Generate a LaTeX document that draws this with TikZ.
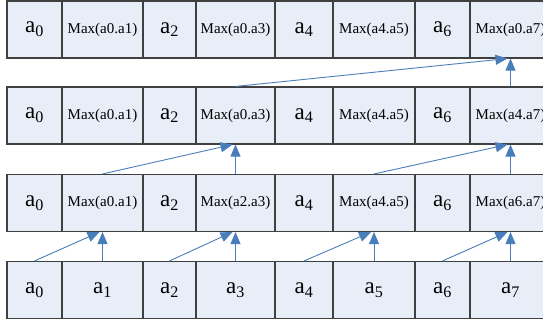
\documentclass[tikz,border=0pt]{standalone}
\usepackage{fontspec}
\setmainfont{Liberation Serif}
\usetikzlibrary{arrows.meta}
\definecolor{cellfill}{HTML}{E8EEF7}
\definecolor{cellline}{HTML}{404040}
\definecolor{arrowblue}{HTML}{4A7EBB}
\begin{document}
\begin{tikzpicture}[x=1pt,y=-1pt,
  cell/.style={draw=cellline, fill=cellfill, line width=1.1pt, inner sep=0pt,
               anchor=center, minimum height=57pt},
  big/.style={cell, font=\fontsize{23}{23}\selectfont},
  small/.style={cell, font=\fontsize{15}{15}\selectfont},
  link/.style={draw=arrowblue, line width=0.9pt, -{Triangle[width=10pt,length=12pt]}}]
\clip (0,0) rectangle (543,321);
% widths: c0 55, c1 81, c2 53, c3 79, c4 58, c5 82, c6 55, c7 81
% row 1
\node[big,   minimum width=55pt] (r1c0) at (34.5,29.5) {a\textsubscript{0}};
\node[small, minimum width=81pt] (r1c1) at (102.5,29.5) {Max(a0.a1)};
\node[big,   minimum width=53pt] (r1c2) at (169.5,29.5) {a\textsubscript{2}};
\node[small, minimum width=79pt] (r1c3) at (235.5,29.5) {Max(a0.a3)};
\node[big,   minimum width=58pt] (r1c4) at (304,29.5) {a\textsubscript{4}};
\node[small, minimum width=82pt] (r1c5) at (374,29.5) {Max(a4.a5)};
\node[big,   minimum width=55pt] (r1c6) at (442.5,29.5) {a\textsubscript{6}};
\node[small, minimum width=81pt] (r1c7) at (510.5,29.5) {Max(a0.a7)};
% row 2
\node[big,   minimum width=55pt] (r2c0) at (34.5,115.5) {a\textsubscript{0}};
\node[small, minimum width=81pt] (r2c1) at (102.5,115.5) {Max(a0.a1)};
\node[big,   minimum width=53pt] (r2c2) at (169.5,115.5) {a\textsubscript{2}};
\node[small, minimum width=79pt] (r2c3) at (235.5,115.5) {Max(a0.a3)};
\node[big,   minimum width=58pt] (r2c4) at (304,115.5) {a\textsubscript{4}};
\node[small, minimum width=82pt] (r2c5) at (374,115.5) {Max(a4.a5)};
\node[big,   minimum width=55pt] (r2c6) at (442.5,115.5) {a\textsubscript{6}};
\node[small, minimum width=81pt] (r2c7) at (510.5,115.5) {Max(a4.a7)};
% row 3
\node[big,   minimum width=55pt] (r3c0) at (34.5,203) {a\textsubscript{0}};
\node[small, minimum width=81pt] (r3c1) at (102.5,203) {Max(a0.a1)};
\node[big,   minimum width=53pt] (r3c2) at (169.5,203) {a\textsubscript{2}};
\node[small, minimum width=79pt] (r3c3) at (235.5,203) {Max(a2.a3)};
\node[big,   minimum width=58pt] (r3c4) at (304,203) {a\textsubscript{4}};
\node[small, minimum width=82pt] (r3c5) at (374,203) {Max(a4.a5)};
\node[big,   minimum width=55pt] (r3c6) at (442.5,203) {a\textsubscript{6}};
\node[small, minimum width=81pt] (r3c7) at (510.5,203) {Max(a6.a7)};
% row 4
\node[big, minimum width=55pt] (r4c0) at (34.5,290) {a\textsubscript{0}};
\node[big, minimum width=81pt] (r4c1) at (102.5,290) {a\textsubscript{1}};
\node[big, minimum width=53pt] (r4c2) at (169.5,290) {a\textsubscript{2}};
\node[big, minimum width=79pt] (r4c3) at (235.5,290) {a\textsubscript{3}};
\node[big, minimum width=58pt] (r4c4) at (304,290) {a\textsubscript{4}};
\node[big, minimum width=82pt] (r4c5) at (374,290) {a\textsubscript{5}};
\node[big, minimum width=55pt] (r4c6) at (442.5,290) {a\textsubscript{6}};
\node[big, minimum width=81pt] (r4c7) at (510.5,290) {a\textsubscript{7}};
% row 4 -> row 3
\draw[link] (r4c0.north) -- ([xshift=-3pt]r3c1.south);
\draw[link] (r4c1.north) -- (r3c1.south);
\draw[link] (r4c2.north) -- ([xshift=-3pt]r3c3.south);
\draw[link] (r4c3.north) -- (r3c3.south);
\draw[link] (r4c4.north) -- ([xshift=-3pt]r3c5.south);
\draw[link] (r4c5.north) -- (r3c5.south);
\draw[link] (r4c6.north) -- ([xshift=-3pt]r3c7.south);
\draw[link] (r4c7.north) -- (r3c7.south);
% row 3 -> row 2
\draw[link] (r3c1.north) -- ([xshift=-3pt]r2c3.south);
\draw[link] (r3c3.north) -- (r2c3.south);
\draw[link] (r3c5.north) -- ([xshift=-3pt]r2c7.south);
\draw[link] (r3c7.north) -- (r2c7.south);
% row 2 -> row 1
\draw[link] (r2c3.north) -- ([xshift=-3pt]r1c7.south);
\draw[link] (r2c7.north) -- (r1c7.south);
\end{tikzpicture}
\end{document}
